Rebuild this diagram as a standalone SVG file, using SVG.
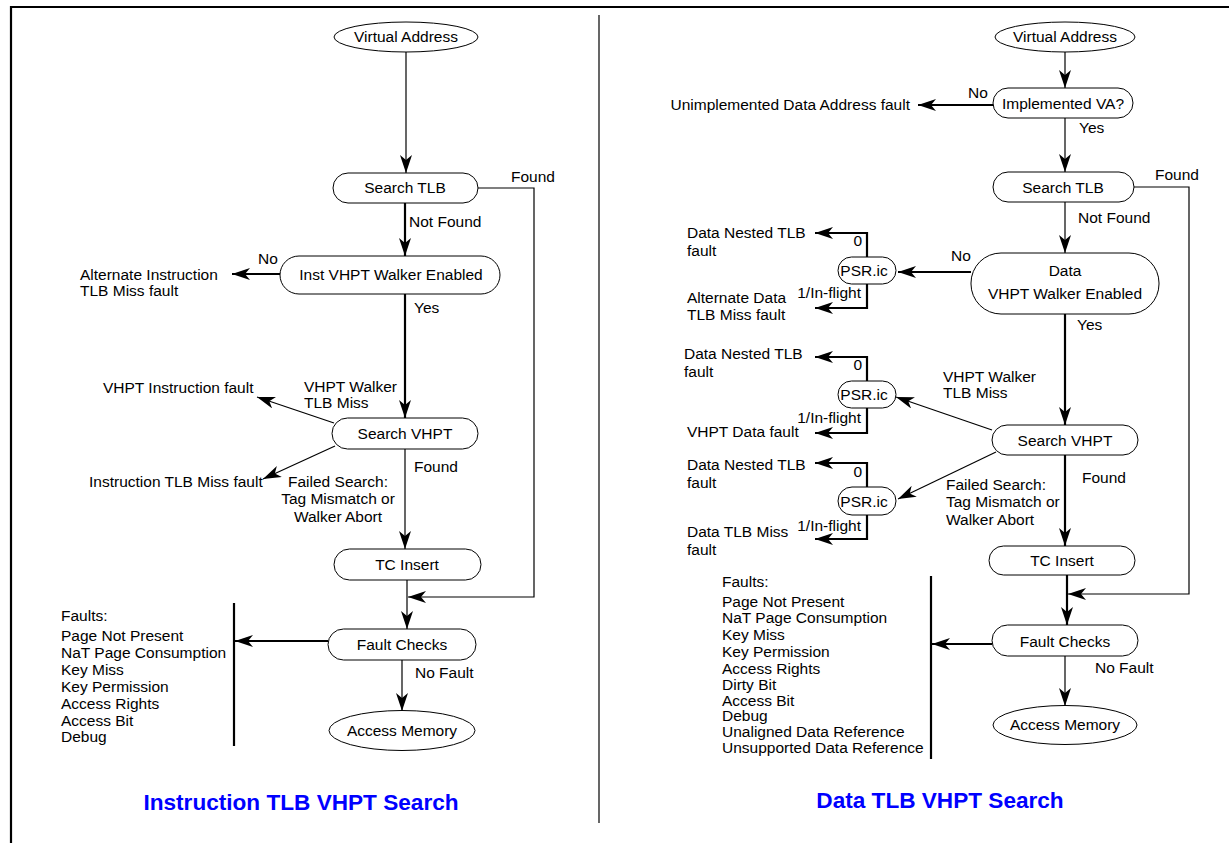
<svg xmlns="http://www.w3.org/2000/svg" width="1229" height="843" viewBox="0 0 1229 843">
<style>
.t{font-family:"Liberation Sans",Arial,sans-serif;font-size:15.5px;fill:#000}
.c{text-anchor:middle}
.e{text-anchor:end}
.n{fill:#fff;stroke:#000;stroke-width:1}
.l1{stroke:#000;stroke-width:1.2;fill:none}
.l2{stroke:#000;stroke-width:2.2;fill:none}
.ttl{font-family:"Liberation Sans",Arial,sans-serif;font-size:22.6px;font-weight:bold;fill:#0000ff;text-anchor:middle}
</style>
<defs>
<marker id="ah" viewBox="0 0 18 12" refX="18" refY="6" markerWidth="18" markerHeight="12" markerUnits="userSpaceOnUse" orient="auto">
<path d="M0,0 L18,6 L0,12 L5,6 Z" fill="#000"/>
</marker>
</defs>
<rect x="0" y="0" width="1229" height="843" fill="#fff"/>
<g id="frame">
<path d="M11,843 V7 H1229" fill="none" stroke="#000" stroke-width="2.2"/>
<line x1="599" y1="15" x2="599" y2="823" stroke="#000" stroke-width="1.2"/>
</g>

<g id="connectors">
<!-- left -->
<path class="l1" d="M406,52 V173" marker-end="url(#ah)"/>
<path class="l1" d="M478,188 H534 V597 H408" marker-end="url(#ah)"/>
<path class="l2" d="M405,203 V256" marker-end="url(#ah)"/>
<path class="l2" d="M280,274 H232" marker-end="url(#ah)"/>
<path class="l2" d="M405,294 V418" marker-end="url(#ah)"/>
<path class="l1" d="M334,423 L257,397" marker-end="url(#ah)"/>
<path class="l1" d="M335,446 L263,479" marker-end="url(#ah)"/>
<path class="l1" d="M405,449 V549" marker-end="url(#ah)"/>
<path class="l1" d="M407,580 V629" marker-end="url(#ah)"/>
<path class="l2" d="M328,641 H235" marker-end="url(#ah)"/>
<path class="l1" d="M402,660 V711" marker-end="url(#ah)"/>
<!-- right -->
<path class="l1" d="M1065,52 V88" marker-end="url(#ah)"/>
<path class="l2" d="M993,105 H918" marker-end="url(#ah)"/>
<path class="l1" d="M1065,118 V172" marker-end="url(#ah)"/>
<path class="l1" d="M1134,187 H1189 V594 H1068" marker-end="url(#ah)"/>
<path class="l1" d="M1065,202 V253" marker-end="url(#ah)"/>
<path class="l2" d="M971,272 H898" marker-end="url(#ah)"/>
<path class="l2" d="M867,257 V233 H815" marker-end="url(#ah)"/>
<path class="l2" d="M867,284 V308 H815" marker-end="url(#ah)"/>
<path class="l2" d="M1065,314 V425" marker-end="url(#ah)"/>
<path class="l1" d="M992,430 L896,397" marker-end="url(#ah)"/>
<path class="l2" d="M867,381 V357 H815" marker-end="url(#ah)"/>
<path class="l2" d="M867,408 V433 H815" marker-end="url(#ah)"/>
<path class="l1" d="M996,452 L898,499" marker-end="url(#ah)"/>
<path class="l2" d="M867,487 V463 H815" marker-end="url(#ah)"/>
<path class="l2" d="M867,515 V539 H815" marker-end="url(#ah)"/>
<path class="l2" d="M1065,455 V546" marker-end="url(#ah)"/>
<path class="l2" d="M1067,575 V625" marker-end="url(#ah)"/>
<path class="l2" d="M992,644 H932" marker-end="url(#ah)"/>
<path class="l1" d="M1065,656 V706" marker-end="url(#ah)"/>
</g>

<g id="labels">
<text class="t" x="511" y="182">Found</text>
<text class="t" x="409" y="227">Not Found</text>
<text class="t" x="258" y="264">No</text>
<text class="t" x="80" y="280">Alternate Instruction</text>
<text class="t" x="80" y="296">TLB Miss fault</text>
<text class="t" x="414" y="313">Yes</text>
<text class="t" x="304" y="392">VHPT Walker</text>
<text class="t" x="304" y="408">TLB Miss</text>
<text class="t" x="103" y="393">VHPT Instruction fault</text>
<text class="t" x="89" y="487">Instruction TLB Miss fault</text>
<text class="t" x="414" y="472">Found</text>
<text class="t c" x="338" y="487">Failed Search:</text>
<text class="t c" x="338" y="504">Tag Mismatch or</text>
<text class="t c" x="338" y="522">Walker Abort</text>
<text class="t" x="415" y="678">No Fault</text>

<text class="t" x="968" y="98">No</text>
<text class="t e" x="910" y="110">Unimplemented Data Address fault</text>
<text class="t" x="1079" y="133">Yes</text>
<text class="t" x="1155" y="180">Found</text>
<text class="t" x="1078" y="223">Not Found</text>
<text class="t" x="951" y="261">No</text>
<text class="t" x="1077" y="330">Yes</text>
<text class="t e" x="862" y="246">0</text>
<text class="t e" x="861" y="298">1/In-flight</text>
<text class="t" x="687" y="238">Data Nested TLB</text>
<text class="t" x="687" y="256">fault</text>
<text class="t" x="687" y="303">Alternate Data</text>
<text class="t" x="687" y="320">TLB Miss fault</text>
<text class="t e" x="862" y="370">0</text>
<text class="t e" x="861" y="423">1/In-flight</text>
<text class="t" x="684" y="359">Data Nested TLB</text>
<text class="t" x="684" y="377">fault</text>
<text class="t" x="687" y="437">VHPT Data fault</text>
<text class="t" x="943" y="382">VHPT Walker</text>
<text class="t" x="943" y="398">TLB Miss</text>
<text class="t e" x="862" y="477">0</text>
<text class="t e" x="861" y="531">1/In-flight</text>
<text class="t" x="687" y="470">Data Nested TLB</text>
<text class="t" x="687" y="488">fault</text>
<text class="t" x="687" y="537">Data TLB Miss</text>
<text class="t" x="687" y="555">fault</text>
<text class="t" x="946" y="490">Failed Search:</text>
<text class="t" x="946" y="507">Tag Mismatch or</text>
<text class="t" x="946" y="525">Walker Abort</text>
<text class="t" x="1082" y="483">Found</text>
<text class="t" x="1095" y="673">No Fault</text>
</g>

<g id="l-va"><ellipse class="n" cx="406" cy="37" rx="72" ry="15"/><text class="t c" x="406" y="42">Virtual Address</text></g>
<g id="l-searchtlb"><rect class="n" x="333" y="173" width="145" height="30" rx="15"/><text class="t c" x="405" y="193">Search TLB</text></g>
<g id="l-instvhpt"><rect class="n" x="280" y="256" width="220" height="38" rx="19"/><text class="t c" x="391" y="280">Inst VHPT Walker Enabled</text></g>
<g id="l-searchvhpt"><rect class="n" x="332" y="418" width="146" height="31" rx="15.5"/><text class="t c" x="405" y="439">Search VHPT</text></g>
<g id="l-tcinsert"><rect class="n" x="334" y="549" width="147" height="31" rx="15.5"/><text class="t c" x="407" y="570">TC Insert</text></g>
<g id="l-faultchecks"><rect class="n" x="328" y="629" width="148" height="31" rx="15.5"/><text class="t c" x="402" y="650">Fault Checks</text></g>
<g id="l-accessmem"><ellipse class="n" cx="402" cy="730.5" rx="73" ry="20"/><text class="t c" x="402" y="736">Access Memory</text></g>
<g id="l-faults">
<line x1="234" y1="603" x2="234" y2="746" stroke="#000" stroke-width="2.2"/>
<text class="t" x="61" y="621">Faults:</text>
<text class="t" x="61" y="641">Page Not Present</text>
<text class="t" x="61" y="658">NaT Page Consumption</text>
<text class="t" x="61" y="675">Key Miss</text>
<text class="t" x="61" y="692">Key Permission</text>
<text class="t" x="61" y="709">Access Rights</text>
<text class="t" x="61" y="726">Access Bit</text>
<text class="t" x="61" y="742">Debug</text>
</g>
<g id="l-title"><text class="ttl" x="301" y="810">Instruction TLB VHPT Search</text></g>

<g id="r-va"><ellipse class="n" cx="1065" cy="37" rx="70" ry="15"/><text class="t c" x="1065" y="42">Virtual Address</text></g>
<g id="r-implva"><rect class="n" x="993" y="88" width="140" height="30" rx="15"/><text class="t c" x="1063" y="109">Implemented VA?</text></g>
<g id="r-searchtlb"><rect class="n" x="993" y="172" width="141" height="30" rx="15"/><text class="t c" x="1063" y="193">Search TLB</text></g>
<g id="r-datavhpt"><rect class="n" x="971" y="253" width="188" height="61" rx="30"/><text class="t c" x="1065" y="276">Data</text><text class="t c" x="1065" y="299">VHPT Walker Enabled</text></g>
<g id="r-psr1"><rect class="n" x="838" y="257" width="58" height="27" rx="13.5"/><text class="t c" x="864" y="276">PSR.ic</text></g>
<g id="r-psr2"><rect class="n" x="838" y="381" width="58" height="27" rx="13.5"/><text class="t c" x="864" y="400">PSR.ic</text></g>
<g id="r-searchvhpt"><rect class="n" x="992" y="425" width="146" height="30" rx="15"/><text class="t c" x="1065" y="446">Search VHPT</text></g>
<g id="r-psr3"><rect class="n" x="838" y="487" width="58" height="28" rx="14"/><text class="t c" x="864" y="507">PSR.ic</text></g>
<g id="r-tcinsert"><rect class="n" x="989" y="546" width="146" height="29" rx="14.5"/><text class="t c" x="1062" y="566">TC Insert</text></g>
<g id="r-faultchecks"><rect class="n" x="992" y="625" width="146" height="31" rx="15.5"/><text class="t c" x="1065" y="647">Fault Checks</text></g>
<g id="r-accessmem"><ellipse class="n" cx="1065" cy="725" rx="72" ry="19.5"/><text class="t c" x="1065" y="730">Access Memory</text></g>
<g id="r-faults">
<line x1="931" y1="576" x2="931" y2="759" stroke="#000" stroke-width="2.2"/>
<text class="t" x="722" y="587">Faults:</text>
<text class="t" x="722" y="607">Page Not Present</text>
<text class="t" x="722" y="623">NaT Page Consumption</text>
<text class="t" x="722" y="640">Key Miss</text>
<text class="t" x="722" y="657">Key Permission</text>
<text class="t" x="722" y="674">Access Rights</text>
<text class="t" x="722" y="690">Dirty Bit</text>
<text class="t" x="722" y="706">Access Bit</text>
<text class="t" x="722" y="721">Debug</text>
<text class="t" x="722" y="737">Unaligned Data Reference</text>
<text class="t" x="722" y="753">Unsupported Data Reference</text>
</g>
<g id="r-title"><text class="ttl" x="940" y="808">Data TLB VHPT Search</text></g>
</svg>
